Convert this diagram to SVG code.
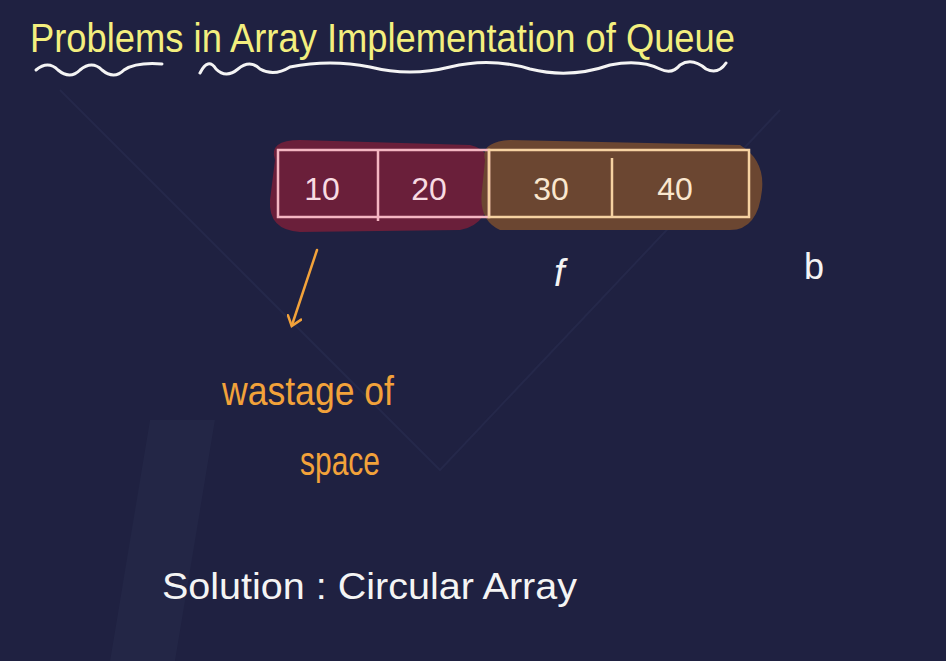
<svg xmlns="http://www.w3.org/2000/svg" width="946" height="661" viewBox="0 0 946 661">
<defs>
<style>
.hand{font-family:"Liberation Sans Narrow","Liberation Sans",sans-serif;}
.title{fill:#f3ef7e;font-size:40px;}
.num{font-size:32px;text-anchor:middle;}
.white{fill:#f4f4f4;}
.orange{fill:#f2a23a;font-size:40px;}
.wm{fill:none;stroke:#25284a;stroke-width:2;}
</style>
<marker id="arr" viewBox="0 0 16 16" refX="10" refY="8" markerWidth="16" markerHeight="16" orient="auto" markerUnits="userSpaceOnUse">
<path d="M2,1 L11,8 L2,15" fill="none" stroke="#f2a23a" stroke-width="2.5" stroke-linecap="round"/>
</marker>
</defs>
<rect width="946" height="661" fill="#1f2141"/>
<g id="watermark">
<path class="wm" d="M60,90 L440,470 L780,110"/>
<path d="M150,420 L215,420 L175,661 L110,661 Z" fill="#232646"/>
</g>
<g id="title">
<text class="hand title" x="30" y="52" textLength="705" lengthAdjust="spacingAndGlyphs">Problems in Array Implementation of Queue</text>
<path d="M36,70 q12,-10 22,0 q12,10 22,0 q12,-10 22,0 q12,10 22,0 q12,-8 38,-6" fill="none" stroke="#f4f4f4" stroke-width="3" stroke-linecap="round"/>
<path d="M200,73 q8,-16 16,-4 q10,10 22,0 q12,-10 22,0 q14,8 30,-2 q40,-8 80,0 q40,10 80,0 q40,-10 80,2 q40,10 80,-4 q30,-6 50,4 q12,6 20,-4 q12,-8 26,4 q12,6 20,-6" fill="none" stroke="#f4f4f4" stroke-width="3" stroke-linecap="round"/>
</g>
<g id="array">
<path d="M275,160 Q268,140 300,140 L470,145 Q495,150 492,185 Q490,225 460,230 L300,232 Q268,230 270,200 Z" fill="#6a1f3a"/>
<path d="M485,160 Q480,142 510,140 L740,145 Q765,160 762,190 Q758,230 730,230 L500,230 Q478,220 482,190 Z" fill="#6b4631"/>
<rect x="278" y="150" width="211" height="67" fill="none" stroke="#f4b6c2" stroke-width="2.5"/>
<rect x="489" y="150" width="260" height="67" fill="none" stroke="#f6d2a2" stroke-width="2.5"/>
<line x1="378" y1="150" x2="378" y2="221" stroke="#f4b6c2" stroke-width="2.5"/>
<line x1="612" y1="158" x2="612" y2="217" stroke="#f6d2a2" stroke-width="2.5"/>
<text class="hand num" x="322" y="200" fill="#f8dbe2">10</text>
<text class="hand num" x="429" y="200" fill="#f8dbe2">20</text>
<text class="hand num" x="551" y="200" fill="#fae7cf">30</text>
<text class="hand num" x="675" y="200" fill="#fae7cf">40</text>
</g>
<g id="pointers">
<text class="hand white" x="554" y="286" font-size="38" font-style="italic">f</text>
<text class="hand white" x="804" y="279" font-size="36">b</text>
</g>
<g id="connectors">
<line x1="317" y1="250" x2="292" y2="325" stroke="#f2a23a" stroke-width="2.5" stroke-linecap="round" marker-end="url(#arr)"/>
</g>
<g id="note">
<text class="hand orange" x="222" y="405" textLength="172" lengthAdjust="spacingAndGlyphs">wastage of</text>
<text class="hand orange" x="300" y="475" textLength="80" lengthAdjust="spacingAndGlyphs">space</text>
</g>
<g id="solution">
<text class="hand white" x="162" y="599" font-size="36" textLength="415" lengthAdjust="spacingAndGlyphs">Solution : Circular Array</text>
</g>
</svg>
